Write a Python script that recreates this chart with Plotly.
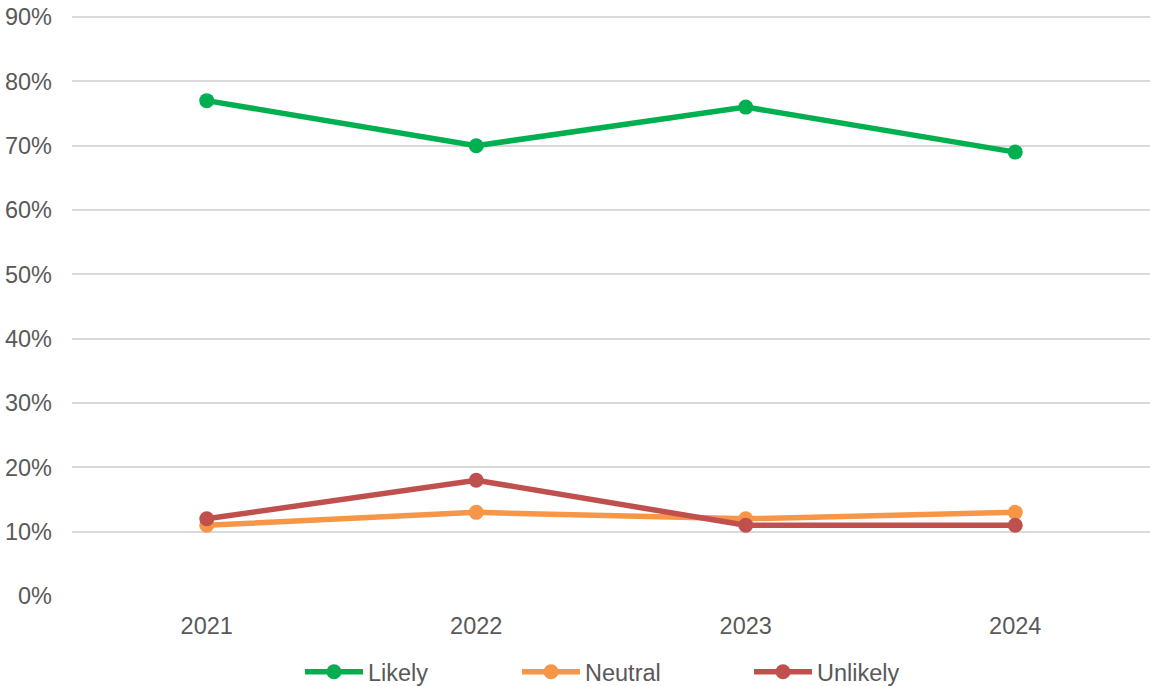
import plotly.graph_objects as go

years = ["2021", "2022", "2023", "2024"]
likely = [0.77, 0.70, 0.76, 0.69]
neutral = [0.11, 0.13, 0.12, 0.13]
unlikely = [0.12, 0.18, 0.11, 0.11]
series_names = ["Likely", "Neutral", "Unlikely"]
colors = ["#00B050", "#F79646", "#C0504D"]
legend_ids = ["legend", "legend2", "legend3"]
legend_x = [0.2115, 0.4128, 0.628]

fig = go.Figure()
for name, vals, col, lid in zip(series_names, [likely, neutral, unlikely], colors, legend_ids):
    fig.add_trace(go.Scatter(
        x=years, y=vals, name=name, mode="lines+markers",
        line=dict(color=col, width=5.5),
        marker=dict(color=col, size=15),
        legend=lid,
    ))

font = "Liberation Sans, Arial, sans-serif"
legend_common = dict(orientation="h", yref="container", y=0.0204, yanchor="middle",
                     xanchor="left", font=dict(size=23.5, color="#595959"),
                     itemwidth=58, bgcolor="rgba(0,0,0,0)")
layout_legends = {lid: dict(x=lx, **legend_common) for lid, lx in zip(legend_ids, legend_x)}

fig.update_layout(
    width=1150, height=686,
    margin=dict(l=72, r=0, t=14, b=90),
    paper_bgcolor="white", plot_bgcolor="white",
    font=dict(family=font, size=23.5, color="#595959"),
    showlegend=True,
    xaxis=dict(type="category", range=[-0.5, 3.5], showgrid=False, showline=False,
               zeroline=False, ticks="", ticklabelstandoff=13, automargin=False,
               tickfont=dict(size=23.5, color="#595959")),
    yaxis=dict(range=[0, 0.9047], dtick=0.1, tickformat=".0%", showgrid=True,
               gridcolor="#D9D9D9", gridwidth=2, zeroline=False, showline=False,
               ticks="", ticklabelstandoff=19, automargin=False,
               tickfont=dict(size=23.5, color="#595959")),
    **layout_legends,
)
fig.write_html("out.html", config={"displayModeBar": False},
               post_script="document.body.style.margin='0px';")
